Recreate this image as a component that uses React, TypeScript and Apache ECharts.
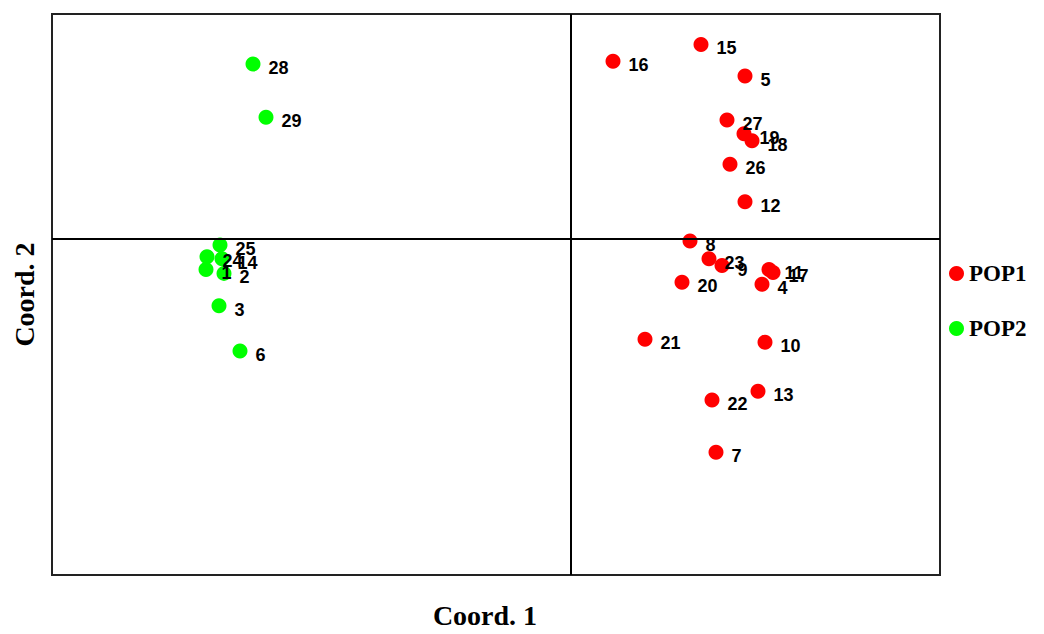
import React, { useEffect, useRef } from "react";
import * as echarts from "echarts";

// Coordinates (Coord. 1, Coord. 2), in arbitrary units
const pop1Labels = ["15", "16", "5", "27", "19", "18", "26", "12", "8", "23", "9", "11", "17", "20", "4", "21", "10", "13", "22", "7"];
const pop1X = [130, 42, 174, 156, 173, 181, 159, 174, 119, 138, 151, 198, 202, 111, 191, 74, 194, 187, 141, 145];
const pop1Y = [198, 181, 166, 121, 107, 100, 76, 38, -2, -20, -27, -31, -34, -44, -46, -102, -105, -155, -164, -217];

const pop2Labels = ["28", "29", "25", "24", "14", "1", "2", "3", "6"];
const pop2X = [-318, -305, -351, -364, -349, -365, -347, -352, -331];
const pop2Y = [178, 124, -6, -18, -20, -31, -35, -68, -114];

const xMin = -519;
const xMax = 369;
const yMin = -342;
const yMax = 229;

const seriesNames = ["POP1", "POP2"];

function build(xs: number[], ys: number[], labels: string[]) {
  return xs.map((x, i) => ({ value: [x, ys[i]], name: labels[i] }));
}

export default function App() {
  const ref = useRef<HTMLDivElement>(null);
  useEffect(() => {
    if (!ref.current) return;
    const chart = echarts.init(ref.current, undefined, { renderer: "svg" });
    const labelStyle = {
      show: true,
      position: "right" as const,
      distance: 8,
      offset: [0, 4],
      formatter: (p: any) => p.name,
      color: "#000",
      fontFamily: "Liberation Sans",
      fontWeight: "bold" as const,
      fontSize: 18,
    };
    const titleStyle = {
      fontFamily: "Liberation Serif",
      fontWeight: "bold" as const,
      fontSize: 28,
      color: "#000",
    };
    chart.setOption({
      animation: false,
      backgroundColor: "#fff",
      grid: {
        left: 52,
        top: 14,
        width: 888,
        height: 571,
        show: true,
        borderColor: "#222",
        borderWidth: 2,
        backgroundColor: "transparent",
      },
      legend: {
        orient: "vertical",
        left: 944,
        top: 257,
        itemGap: 32,
        itemWidth: 15,
        itemHeight: 15,
        icon: "circle",
        data: seriesNames,
        textStyle: {
          fontFamily: "Liberation Serif",
          fontWeight: "bold",
          fontSize: 23,
          color: "#000",
        },
      },
      xAxis: {
        type: "value",
        min: xMin,
        max: xMax,
        name: "Coord. 1",
        nameLocation: "middle",
        nameGap: 26,
        nameTextStyle: { ...titleStyle, padding: [0, 22, 0, 0] },
        axisLine: { show: false, onZero: false },
        axisTick: { show: false },
        axisLabel: { show: false },
        splitLine: { show: false },
      },
      yAxis: {
        type: "value",
        min: yMin,
        max: yMax,
        name: "Coord. 2",
        nameLocation: "middle",
        nameGap: 14,
        nameRotate: 90,
        nameTextStyle: titleStyle,
        axisLine: { show: false, onZero: false },
        axisTick: { show: false },
        axisLabel: { show: false },
        splitLine: { show: false },
      },
      series: [
        {
          name: seriesNames[0],
          type: "scatter",
          symbol: "circle",
          symbolSize: 15,
          itemStyle: { color: "#ff0000", opacity: 1 },
          label: labelStyle,
          data: build(pop1X, pop1Y, pop1Labels),
          markLine: {
            silent: true,
            symbol: "none",
            label: { show: false },
            lineStyle: { color: "#000", width: 2, type: "solid" },
            data: [{ xAxis: 0 }, { yAxis: 0 }],
          },
          z: 3,
        },
        {
          name: seriesNames[1],
          type: "scatter",
          symbol: "circle",
          symbolSize: 15,
          itemStyle: { color: "#00ff00", opacity: 1 },
          label: labelStyle,
          data: build(pop2X, pop2Y, pop2Labels),
          z: 3,
        },
      ],
    });
    return () => chart.dispose();
  }, []);
  return (
    <div
      ref={ref}
      style={{ position: "absolute", left: 0, top: 0, width: 1044, height: 634 }}
    />
  );
}
